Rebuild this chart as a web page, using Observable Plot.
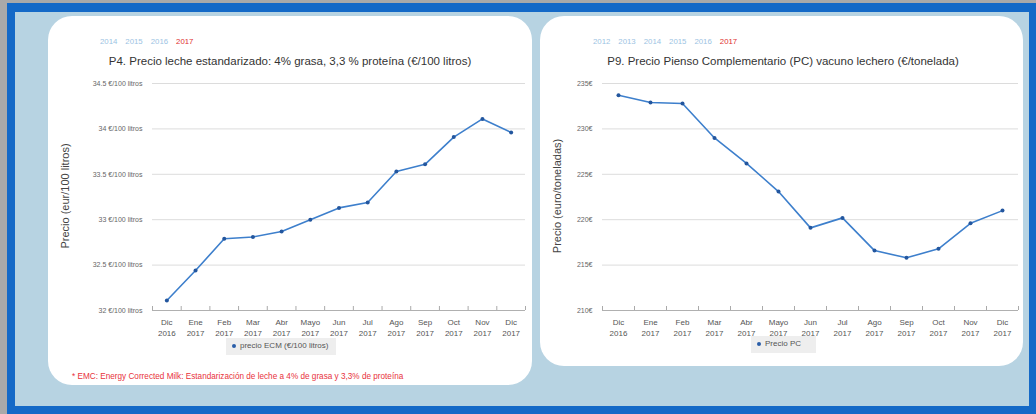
<!DOCTYPE html>
<html><head><meta charset="utf-8">
<script src="https://cdn.jsdelivr.net/npm/d3@7"></script>
<script src="https://cdn.jsdelivr.net/npm/@observablehq/plot@0.6"></script>
<style>
body{margin:0;width:1036px;height:414px;overflow:hidden;font-family:"Liberation Sans",Arial,sans-serif;background:#a9a9a9;}
.abs{position:absolute;}
.frame{left:7px;top:3px;width:1029px;height:411px;background:#1469c7;}
.inner{left:15px;top:12px;width:1014px;height:394px;background:#b7d3e2;}
.panel{background:#fff;border-radius:24px;}
.years{font-size:7.8px;color:#9cc3e3;white-space:nowrap;}
.years span{margin-right:8px;}
.years .cur{color:#e03030;}
.title{font-size:11.5px;color:#333;white-space:nowrap;transform:translateX(-50%);}
.ylab{font-size:11px;color:#444;white-space:nowrap;transform:translate(-50%,-50%) rotate(-90deg);}
.legend{background:#eeeeee;font-size:8px;color:#555;white-space:nowrap;padding:3px 6px 3px 6px;box-sizing:border-box;}
.legend i{display:inline-block;width:4px;height:4px;border-radius:50%;background:#2a5ea8;margin-right:4px;vertical-align:middle;}
.foot{font-size:8.2px;color:#e8323c;white-space:nowrap;}
</style></head>
<body>
<div class="abs frame"></div>
<div class="abs inner"></div>
<div class="abs panel" style="left:48px;top:16px;width:484px;height:369px;"></div>
<div class="abs panel" style="left:540px;top:16px;width:483px;height:350px;"></div>
<div id="c1" class="abs" style="left:48px;top:75px;"></div>
<div id="c2" class="abs" style="left:540px;top:75px;"></div>
<div id="txt"></div>
<script>
const months = ["Dic\n2016","Ene\n2017","Feb\n2017","Mar\n2017","Abr\n2017","Mayo\n2017","Jun\n2017","Jul\n2017","Ago\n2017","Sep\n2017","Oct\n2017","Nov\n2017","Dic\n2017"];
const ecmValues = [32.11,32.44,32.79,32.81,32.87,33.00,33.13,33.19,33.53,33.61,33.91,34.11,33.96];
const pcValues = [233.7,232.9,232.8,229.0,226.2,223.1,219.1,220.2,216.6,215.8,216.8,219.6,221.0];
const ecmTicks = [32,32.5,33,33.5,34,34.5];
const pcTicks = [210,215,220,225,230,235];
const yearsLeft = ["2014","2015","2016","2017"];
const yearsRight = ["2012","2013","2014","2015","2016","2017"];
const titleLeft = "P4. Precio leche estandarizado: 4% grasa, 3,3 % proteína (€/100 litros)";
const titleRight = "P9. Precio Pienso Complementario (PC) vacuno lechero (€/tonelada)";
const yLabelLeft = "Precio (eur/100 litros)";
const yLabelRight = "Precio (euro/toneladas)";
const legendLeft = "precio ECM (€/100 litros)";
const legendRight = "Precio PC";
const footnote = "* EMC: Energy Corrected Milk: Estandarización de leche a 4% de grasa y 3,3% de proteína";

function chart(values, ticks, fmt, width, marginLeft, marginRight) {
  const idx = d3.range(months.length);
  return Plot.plot({
    width, height: 280, marginLeft, marginRight, marginTop: 8, marginBottom: 45,
    style: {fontFamily: "'Liberation Sans', Arial, sans-serif", background: "transparent", color: "#555", overflow: "visible"},
    x: {type: "linear", domain: [-0.5, months.length - 0.5]},
    y: {domain: [ticks[0], ticks[ticks.length - 1]]},
    marks: [
      Plot.ruleY(ticks.slice(1), {stroke: "#dcdcdc", strokeWidth: 1}),
      Plot.axisY({ticks, tickFormat: fmt, tickSize: 0, tickPadding: 10, label: null, fontSize: 7, fill: "#666"}),
      Plot.axisX({ticks: idx, tickFormat: i => months[i], tickSize: 0, tickPadding: 7, label: null, fontSize: 8, fill: "#555", lineHeight: 1.35}),
      Plot.axisX({ticks: d3.range(-0.5, months.length), tickFormat: () => "", tickSize: -4, label: null, stroke: "#aaa"}),
      Plot.ruleY([ticks[0]], {stroke: "#b0b0b0"}),
      Plot.lineY(values, {x: (d, i) => i, y: d => d, stroke: "#3d7fcc", strokeWidth: 1.6}),
      Plot.dot(values, {x: (d, i) => i, y: d => d, r: 2, fill: "#23569e"})
    ]
  });
}

document.getElementById("c1").append(chart(ecmValues, ecmTicks, d => `${d} €/100 litros`, 484, 104, 7));
document.getElementById("c2").append(chart(pcValues, pcTicks, d => `${d}€`, 482, 62, 4));

const txt = document.getElementById("txt");
function add(html, cls, style) {
  const el = document.createElement("div");
  el.className = "abs " + cls;
  el.setAttribute("style", style);
  el.innerHTML = html;
  txt.append(el);
}
const yr = ys => ys.map((y, i) => `<span class="${i === ys.length - 1 ? "cur" : ""}">${y}</span>`).join("");
add(yr(yearsLeft), "years", "left:100px;top:37px;");
add(yr(yearsRight), "years", "left:593px;top:37px;");
add(titleLeft, "title", "left:290px;top:55px;");
add(titleRight, "title", "left:783px;top:55px;");
add(yLabelLeft, "ylab", "left:65px;top:196px;");
add(yLabelRight, "ylab", "left:557px;top:196px;");
add(`<i></i>${legendLeft}`, "legend", "left:226px;top:338px;width:110px;height:17px;");
add(`<i></i>${legendRight}`, "legend", "left:751px;top:336px;width:65px;height:17px;");
add(footnote, "foot", "left:72px;top:372px;");
</script>
</body></html>
